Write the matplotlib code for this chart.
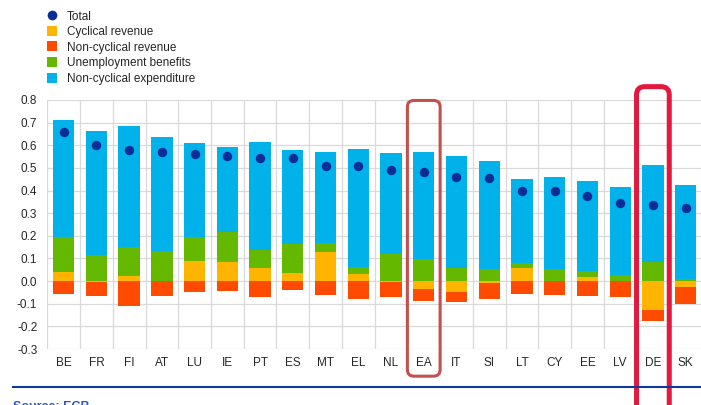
import numpy as np
import matplotlib
matplotlib.use("Agg")
import matplotlib.pyplot as plt
from matplotlib.lines import Line2D
from matplotlib.patches import FancyBboxPatch

plt.rcParams['font.family'] = ['Liberation Sans', 'DejaVu Sans']

categories = ["BE", "FR", "FI", "AT", "LU", "IE", "PT", "ES", "MT", "EL",
              "NL", "EA", "IT", "SI", "LT", "CY", "EE", "LV", "DE", "SK"]
cyclical_revenue = [0.041, -0.005, 0.024, 0.002, 0.090, 0.083, 0.056, 0.037, 0.128, 0.032,
                    -0.005, -0.037, -0.050, -0.009, 0.059, 0.002, 0.018, 0.002, -0.128, -0.024]
non_cyclical_revenue = [-0.055, -0.061, -0.111, -0.066, -0.047, -0.043, -0.071, -0.040, -0.060, -0.078,
                        -0.067, -0.053, -0.044, -0.069, -0.055, -0.062, -0.068, -0.069, -0.049, -0.076]
unemployment_benefits = [0.152, 0.114, 0.128, 0.131, 0.103, 0.132, 0.081, 0.125, 0.039, 0.030,
                         0.119, 0.097, 0.060, 0.052, 0.021, 0.050, 0.028, 0.023, 0.084, 0.009]
non_cyclical_expenditure = [0.519, 0.551, 0.535, 0.503, 0.418, 0.378, 0.477, 0.419, 0.402, 0.522,
                            0.446, 0.474, 0.492, 0.480, 0.373, 0.407, 0.395, 0.389, 0.431, 0.414]
total = [0.659, 0.599, 0.577, 0.569, 0.562, 0.552, 0.543, 0.543, 0.509, 0.507,
         0.491, 0.481, 0.460, 0.456, 0.400, 0.398, 0.375, 0.347, 0.338, 0.324]
y_ticks = [-0.3, -0.2, -0.1, 0.0, 0.1, 0.2, 0.3, 0.4, 0.5, 0.6, 0.7, 0.8]
y_tick_labels = ["-0.3", "-0.2", "-0.1", "0.0", "0.1", "0.2", "0.3", "0.4", "0.5", "0.6", "0.7", "0.8"]
highlight_soft = "EA"
highlight_strong = "DE"

C_TOTAL = "#0B2D96"
C_CYC = "#FFB400"
C_NCR = "#FF4B00"
C_UNEMP = "#65B800"
C_EXP = "#00B1EA"

W, H = 701, 405
fig = plt.figure(figsize=(W / 100, H / 100), dpi=100)
ax = fig.add_axes([47.3 / W, (H - 349) / H, 654.7 / W, 249 / H])

x = np.arange(len(categories))
series = [(cyclical_revenue, C_CYC), (non_cyclical_revenue, C_NCR),
          (unemployment_benefits, C_UNEMP), (non_cyclical_expenditure, C_EXP)]
pos_base = np.zeros(len(x))
neg_base = np.zeros(len(x))
bw = 0.65
for vals, col in series:
    v = np.array(vals)
    pos = np.where(v > 0, v, 0)
    neg = np.where(v < 0, v, 0)
    ax.bar(x, pos, bw, bottom=pos_base, color=col, linewidth=0, zorder=2)
    ax.bar(x, neg, bw, bottom=neg_base, color=col, linewidth=0, zorder=2)
    pos_base += pos
    neg_base += neg

ax.plot(x, total, 'o', color=C_TOTAL, markersize=6.8, markeredgewidth=0, zorder=4)

ax.set_xlim(-0.5, len(categories) - 0.5)
ax.set_ylim(-0.3, 0.8)
ax.set_yticks(y_ticks)
ax.set_yticklabels(y_tick_labels)
ax.set_xticks(x)
ax.set_xticklabels(categories)
ax.set_xticks(np.arange(-0.5, len(categories), 1), minor=True)
ax.tick_params(axis='both', which='both', length=0, labelsize=8.5, colors="#262626")
ax.tick_params(axis='y', pad=7.2)
ax.tick_params(axis='x', pad=5.8)
ax.grid(axis='y', which='major', color="#D9D9D9", linewidth=0.9, zorder=0)
ax.grid(axis='x', which='minor', color="#D9D9D9", linewidth=0.9, zorder=0)
ax.grid(axis='x', which='major', visible=False)
for s in ax.spines.values():
    s.set_visible(False)
ax.set_axisbelow(True)

# highlight boxes
aspect = (654.7 / len(categories)) / (249 / 1.1)
i_ea = categories.index(highlight_soft)
box1 = FancyBboxPatch((i_ea - 0.5, -0.42), 1.0, 0.42 + 0.798,
                      boxstyle="round,pad=0,rounding_size=0.2", mutation_aspect=aspect,
                      fill=False, edgecolor="#C4504E", linewidth=2.2, clip_on=False, zorder=5)
ax.add_patch(box1)
i_de = categories.index(highlight_strong)
box2 = FancyBboxPatch((i_de - 0.5, -0.8), 1.0, 0.8 + 0.859,
                      boxstyle="round,pad=0,rounding_size=0.25", mutation_aspect=aspect,
                      fill=False, edgecolor="#E3183C", linewidth=3.6, clip_on=False, zorder=5)
ax.add_patch(box2)

# legend
handles = [
    Line2D([], [], marker='o', linestyle='none', color=C_TOTAL, markersize=7, markeredgewidth=0),
    Line2D([], [], marker='s', linestyle='none', color=C_CYC, markersize=7, markeredgewidth=0),
    Line2D([], [], marker='s', linestyle='none', color=C_NCR, markersize=7, markeredgewidth=0),
    Line2D([], [], marker='s', linestyle='none', color=C_UNEMP, markersize=7, markeredgewidth=0),
    Line2D([], [], marker='s', linestyle='none', color=C_EXP, markersize=7, markeredgewidth=0),
]
labels = ["Total", "Cyclical revenue", "Non-cyclical revenue", "Unemployment benefits",
          "Non-cyclical expenditure"]
fig.legend(handles, labels, loc='upper left', bbox_to_anchor=(47 / W, 1 - 10.5 / H),
           frameon=False, fontsize=8.5, handlelength=0.85, handletextpad=0.85,
           labelspacing=0.3, borderpad=0, borderaxespad=0, labelcolor="#262626")

# bottom rule and source
fig.add_artist(Line2D([13 / W, 1.0], [1 - 386.7 / H] * 2, color="#0D3A99", linewidth=1.5))
fig.text(13 / W, 1 - 401.5 / H, "Source: ECB", fontsize=9, fontweight='bold',
         color="#2A55C8", va='top', ha='left')

fig.savefig("out.png", dpi=100)
